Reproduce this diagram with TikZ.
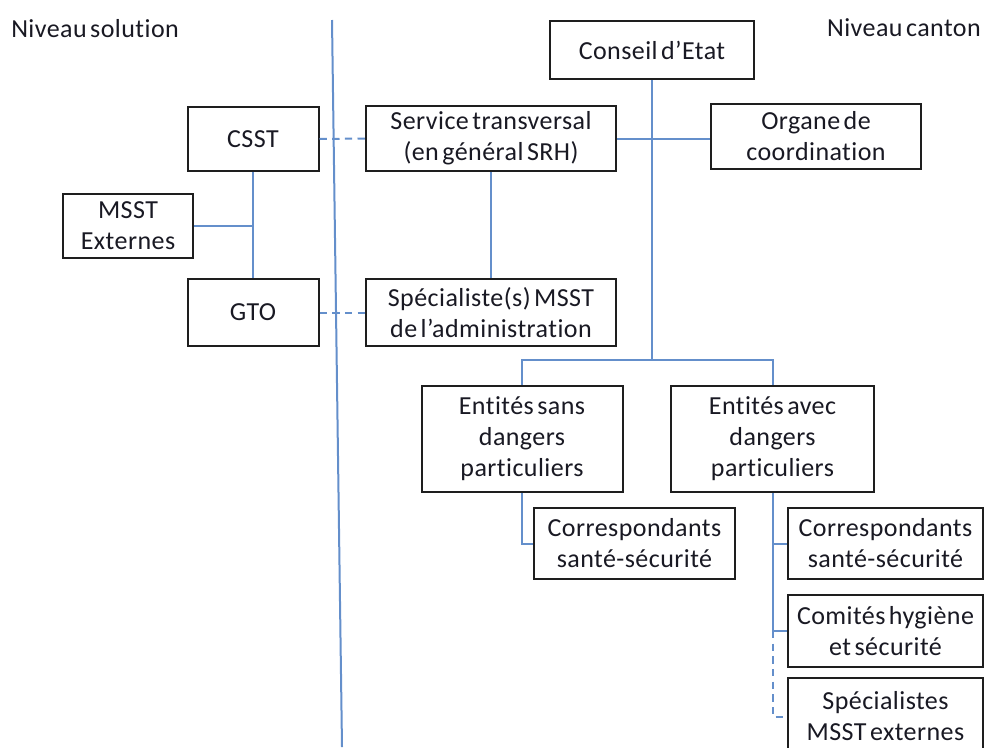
\documentclass[tikz,border=0pt]{standalone}
\usepackage{fontspec}
\setmainfont[Ligatures=NoCommon, LetterSpace=1.7, WordSpace=0.55]{Carlito}
\usetikzlibrary{calc}
\definecolor{linkblue}{RGB}{100,143,203}
\definecolor{boxline}{RGB}{30,30,30}
\definecolor{txt}{RGB}{25,25,35}
\begin{document}
\begin{tikzpicture}[x=0.75pt,y=-0.75pt,
  every node/.style={font=\fontsize{19.5pt}{23.25pt}\selectfont, text=txt},
  orgbox/.style={draw=boxline, line width=1.5pt, fill=white, align=center, inner sep=0pt},
  link/.style={draw=linkblue, line width=1.5pt},
  dlink/.style={draw=linkblue, line width=1.5pt, dash pattern=on 5.5pt off 4pt}]
\useasboundingbox (0,0) rectangle (985,747);
\begin{scope}
\clip (0,0) rectangle (985,747);
% labels
\node[anchor=west, inner sep=0pt] (lsol) at (11,29) {Niveau solution};
\node[anchor=east, inner sep=0pt] (lcan) at (981,28) {Niveau canton};
% separator
\coordinate (septop) at (332,20);
\coordinate (sepbot) at (342,747);
\draw[link] (septop) -- (sepbot);
% boxes
\node[orgbox, minimum width=153pt, minimum height=43.5pt] (conseil) at (652,50) {Conseil d’Etat};
\node[orgbox, minimum width=187.5pt, minimum height=48.75pt] (service) at (491,138.5) {Service transversal\\(en général SRH)};
\node[orgbox, minimum width=157.5pt, minimum height=48.75pt] (organe) at (816,136.5) {Organe de\\coordination};
\node[orgbox, minimum width=98.25pt, minimum height=48pt] (csst) at (253,139) {CSST};
\node[orgbox, minimum width=97.5pt, minimum height=48pt] (msst) at (128,226) {MSST\\Externes};
\node[orgbox, minimum width=98.25pt, minimum height=50.25pt] (gto) at (253,312.5) {GTO};
\node[orgbox, minimum width=187.5pt, minimum height=50.25pt] (spec) at (491,312.5) {Spécialiste(s) MSST\\de l’administration};
\node[orgbox, minimum width=150.75pt, minimum height=79.5pt] (sans) at (522,439) {Entités sans\\dangers\\particuliers};
\node[orgbox, minimum width=152.25pt, minimum height=79.5pt] (avec) at (772.5,439) {Entités avec\\dangers\\particuliers};
\node[orgbox, minimum width=150.75pt, minimum height=53.25pt] (corrl) at (634.5,543.5) {Correspondants\\santé-sécurité};
\node[orgbox, minimum width=146.25pt, minimum height=53.25pt] (corrr) at (885.5,543.5) {Correspondants\\santé-sécurité};
\node[orgbox, minimum width=146.25pt, minimum height=54pt] (comites) at (885.5,631) {Comités hygiène\\et sécurité};
\node[orgbox, minimum width=146.25pt, minimum height=57.75pt] (speext) at (885.5,716.5) {Spécialistes\\MSST externes};
% connectors
\coordinate (jc) at ($(conseil.south)+(0,280)$);
\draw[link] (conseil.south) -- (jc);
\draw[link] (service.east) -- (service.east -| organe.west);
\draw[link] (sans.north) -- (sans.north |- jc) -- (avec.north |- jc) -- (avec.north);
\draw[link] (service.south) -- (spec.north);
\draw[dlink] (csst.east) -- (service.west);
\draw[dlink] (gto.east) -- (spec.west);
\draw[link] (csst.south) -- (gto.north);
\draw[link] (msst.east) -- (msst.east -| csst.south);
\draw[link] (sans.south) |- (corrl.west);
\coordinate (jv) at (avec.south |- comites.west);
\draw[link] (avec.south) -- (jv) -- (comites.west);
\draw[link] (avec.south |- corrr.west) -- (corrr.west);
\draw[dlink] (jv) |- (speext.west);
\end{scope}
\end{tikzpicture}
\end{document}
